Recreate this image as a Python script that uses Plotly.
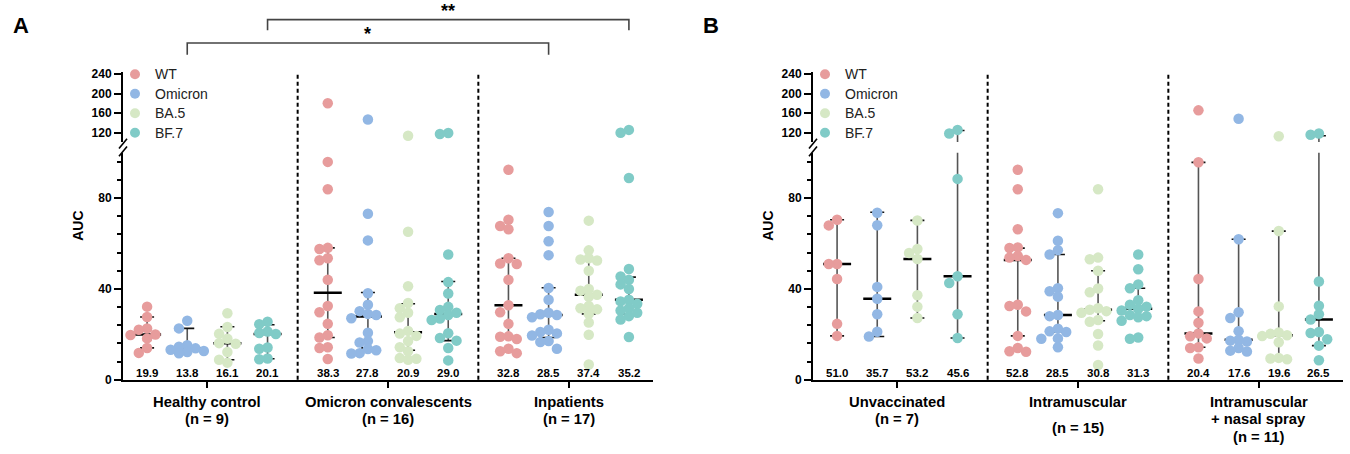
import numpy as np
import plotly.graph_objects as go

W, H = 1350, 454

series_names = ["WT", "Omicron", "BA.5", "BF.7"]
series_colors = ["#E79C9C", "#92B7E4", "#D6E8C5", "#80CBC7"]

labels_a = [["Healthy control", "(n = 9)"], ["Omicron convalescents", "(n = 16)"], ["Inpatients", "(n = 17)"]]
labels_b = [["Unvaccinated", "(n = 7)"], ["Intramuscular", "", "(n = 15)"], ["Intramuscular", "+ nasal spray", "(n = 11)"]]

# ---------------- Panel A data ----------------
hc_wt = [32.2, 27.6, 22.6, 22.0, 19.9, 19.7, 18.2, 14.0, 11.8]
hc_omi = [26.0, 22.6, 15.2, 14.5, 13.8, 13.2, 12.6, 12.2, 11.6]
hc_ba5 = [29.3, 23.2, 20.2, 18.0, 16.1, 15.8, 12.2, 8.8, 7.5]
hc_bf7 = [25.5, 24.4, 21.2, 20.6, 20.1, 14.2, 13.6, 9.3, 9.0]
med_hc = [19.9, 13.8, 16.1, 20.1]
q1_hc = [14.0, 12.9, 8.8, 9.2]
q3_hc = [27.6, 22.6, 23.3, 24.2]

oc_wt = [180.7, 96.0, 83.9, 58.1, 57.6, 53.5, 52.6, 44.0, 32.5, 29.7, 24.6, 19.6, 18.6, 14.3, 14.0, 9.1]
oc_omi = [147.3, 73.1, 61.4, 38.1, 33.0, 30.2, 29.0, 28.5, 27.1, 20.7, 17.0, 16.4, 13.5, 13.0, 11.7, 11.5]
oc_ba5 = [114.0, 65.2, 41.2, 33.8, 31.5, 29.5, 27.5, 21.5, 20.3, 19.3, 17.0, 14.3, 12.5, 9.5, 9.2, 8.8]
oc_bf7 = [119.5, 117.5, 55.2, 43.0, 38.0, 32.1, 30.7, 29.5, 28.5, 27.0, 26.3, 20.5, 18.4, 17.2, 14.0, 8.5]
med_oc = [38.3, 27.8, 20.9, 29.0]
q1_oc = [18.6, 14.0, 13.0, 17.2]
q3_oc = [58.1, 38.4, 33.5, 43.3]

ip_wt = [92.5, 70.5, 67.7, 66.3, 53.5, 51.2, 51.0, 44.0, 32.8, 29.7, 24.6, 19.1, 18.9, 17.9, 13.6, 12.5, 11.7]
ip_omi = [73.9, 67.7, 61.0, 54.9, 40.4, 35.2, 29.5, 28.8, 28.5, 27.5, 22.0, 21.0, 20.4, 19.5, 17.0, 16.6, 13.6]
ip_ba5 = [70.1, 57.0, 53.5, 53.0, 52.5, 48.0, 40.0, 39.2, 37.4, 36.5, 32.5, 31.5, 31.0, 29.0, 25.2, 19.8, 6.7]
ip_bf7 = [126.0, 120.0, 88.9, 48.8, 45.5, 44.0, 42.0, 40.0, 35.2, 34.5, 33.5, 31.5, 30.5, 29.5, 28.0, 26.5, 18.8]
med_ip = [32.8, 28.5, 37.4, 35.2]
q1_ip = [18.5, 18.6, 29.0, 28.9]
q3_ip = [53.5, 40.5, 53.0, 45.2]

# ---------------- Panel B data ----------------
uv_wt = [70.5, 68.0, 51.0, 51.0, 44.4, 24.6, 19.3]
uv_omi = [73.6, 68.1, 40.9, 35.7, 28.8, 21.1, 19.0]
uv_ba5 = [70.2, 57.6, 55.8, 53.2, 37.2, 32.2, 27.2]
uv_bf7 = [126.0, 118.7, 88.5, 45.6, 42.6, 28.8, 18.4]
med_uv = [51.0, 35.7, 53.2, 45.6]
q1_uv = [19.3, 19.0, 27.2, 18.4]
q3_uv = [70.5, 73.8, 70.2, 124.7]

im_wt = [92.5, 83.9, 66.3, 58.3, 58.0, 54.5, 53.8, 52.8, 33.0, 32.5, 30.1, 19.3, 14.0, 12.5, 12.3]
im_omi = [73.4, 61.2, 57.1, 55.2, 40.3, 39.0, 36.6, 28.5, 28.0, 22.5, 21.3, 21.0, 18.2, 18.0, 14.3]
im_ba5 = [83.9, 53.8, 53.1, 48.0, 40.2, 38.5, 31.5, 30.8, 30.2, 29.5, 26.3, 25.5, 20.1, 15.1, 6.5]
im_bf7 = [55.2, 48.7, 42.0, 40.3, 35.0, 33.0, 32.2, 31.3, 30.5, 28.5, 28.0, 27.5, 26.0, 18.6, 18.0]
med_im = [52.8, 28.5, 30.8, 31.3]
q1_im = [19.3, 21.0, 26.0, 27.9]
q3_im = [58.0, 55.2, 48.0, 40.3]

ns_wt = [166.0, 95.8, 44.4, 30.1, 25.1, 20.4, 19.1, 18.2, 14.3, 14.0, 9.3]
ns_omi = [148.7, 61.9, 29.7, 27.2, 21.4, 17.6, 17.2, 16.8, 14.0, 12.8, 12.4]
ns_ba5 = [113.0, 65.5, 32.3, 20.8, 20.2, 19.6, 19.2, 16.5, 9.6, 9.3, 9.0]
ns_bf7 = [118.7, 116.0, 43.3, 32.6, 28.8, 26.5, 21.0, 20.6, 17.8, 15.0, 8.6]
med_ns = [20.4, 17.6, 19.6, 26.5]
q1_ns = [14.3, 13.0, 9.3, 15.0]
q3_ns = [95.8, 61.9, 65.5, 114.0]

lower_ticks = [0, 40, 80]
upper_ticks = [120, 160, 200, 240]

# ---------------- geometry ----------------
Y0 = 385.0          # pixel row of value 0
LOW_MAX = 100.0
UP_MIN, UP_MAX = 101.0, 245.0
LOW_PPU = 2.325     # px per unit (lower segment)
UP_PPU = 0.5        # px per unit (upper segment)
Y120 = 132.0        # pixel row of value 120

low_top_px = Y0 - LOW_MAX * LOW_PPU
up_bot_px = Y120 + (120 - UP_MIN) * UP_PPU
up_top_px = Y120 - (UP_MAX - 120) * UP_PPU

XR = [-2.1, 11.1]
AXW = 530.0
PPX = AXW / (XR[1] - XR[0])
GSTEP = 4.5

LINE_Y = [408.0, 425.5, 444.0]   # pixel rows of group-label lines
GAP_LINE_Y = 435.0               # row of a label's last line when a blank line precedes it


def py(p):
    return (H - p) / H


def px(p):
    return p / W


def hpx(v):
    if v <= LOW_MAX:
        return v * LOW_PPU
    return (Y0 - Y120) + (v - 120) * UP_PPU


def swarm(vals, step_px=8.3, dmin=8.0):
    vals = np.asarray(vals, float)
    order = np.argsort(-vals)
    placed = []
    offs = np.zeros(len(vals))
    for i in order:
        hy = hpx(vals[i])
        chosen, best, chosen_fb = None, -1.0, 0.0
        for k in [0, -1, 1, -2, 2]:
            ox = k * step_px
            dists = [np.hypot(ox - a, hy - b) for a, b in placed]
            mdist = min(dists) if dists else 1e9
            if mdist >= dmin:
                chosen = ox
                break
            if mdist > best:
                best, chosen_fb = mdist, ox
        if chosen is None:
            chosen = chosen_fb
        placed.append((chosen, hy))
        offs[i] = chosen / PPX
    return offs


panels = [
    dict(name="A", left=123.0, xa="x", yl="y", yu="y2",
         groups=[[hc_wt, hc_omi, hc_ba5, hc_bf7], [oc_wt, oc_omi, oc_ba5, oc_bf7], [ip_wt, ip_omi, ip_ba5, ip_bf7]],
         meds=[med_hc, med_oc, med_ip], q1s=[q1_hc, q1_oc, q1_ip], q3s=[q3_hc, q3_oc, q3_ip], labels=labels_a),
    dict(name="B", left=813.0, xa="x2", yl="y3", yu="y4",
         groups=[[uv_wt, uv_omi, uv_ba5, uv_bf7], [im_wt, im_omi, im_ba5, im_bf7], [ns_wt, ns_omi, ns_ba5, ns_bf7]],
         meds=[med_uv, med_im, med_ns], q1s=[q1_uv, q1_im, q1_ns], q3s=[q3_uv, q3_im, q3_ns], labels=labels_b),
]

fig = go.Figure()
annotations = []
shapes = []

MED_HALF = 14 / PPX
CAP_HALF = 7 / PPX
FONT = "Liberation Sans, Arial"

for P in panels:
    xa, yl, yu = P["xa"], P["yl"], P["yu"]
    wl = dict(x=[], y=[])
    wu = dict(x=[], y=[])
    cl = dict(x=[], y=[])
    cu = dict(x=[], y=[])
    md = dict(x=[], y=[])
    for g in range(3):
        for s in range(4):
            xc = g * GSTEP + (s - 1.5)
            q1 = P["q1s"][g][s]
            q3 = P["q3s"][g][s]
            m = P["meds"][g][s]
            wl["x"] += [xc, xc, None]
            wl["y"] += [q1, min(q3, LOW_MAX + 2), None]
            if q3 > UP_MIN:
                wu["x"] += [xc, xc, None]
                wu["y"] += [UP_MIN - 2, q3, None]
                cu["x"] += [xc - CAP_HALF, xc + CAP_HALF, None]
                cu["y"] += [q3, q3, None]
            else:
                cl["x"] += [xc - CAP_HALF, xc + CAP_HALF, None]
                cl["y"] += [q3, q3, None]
            cl["x"] += [xc - CAP_HALF, xc + CAP_HALF, None]
            cl["y"] += [q1, q1, None]
            md["x"] += [xc - MED_HALF, xc + MED_HALF, None]
            md["y"] += [m, m, None]
            annotations.append(dict(x=xc, y=0, xref=xa, yref=yl, text=f"{m:.1f}", showarrow=False,
                                    yanchor="middle", yshift=7,
                                    font=dict(family=FONT, size=11.5, color="black", weight="bold")))
        # group labels (one annotation per line)
        lines = P["labels"][g]
        for li, txt in enumerate(lines):
            if not txt:
                continue
            yrow = LINE_Y[li]
            if li == 2 and not lines[1]:
                yrow = GAP_LINE_Y
            annotations.append(dict(x=g * GSTEP, y=py(yrow), xref=xa, yref="paper", text=txt,
                                    showarrow=False, xanchor="center", yanchor="middle",
                                    font=dict(family=FONT, size=14.8, color="black", weight="bold")))
    fig.add_trace(go.Scatter(x=wl["x"], y=wl["y"], mode="lines", xaxis=xa, yaxis=yl,
                             line=dict(color="#555555", width=1.6), showlegend=False, hoverinfo="skip"))
    fig.add_trace(go.Scatter(x=wu["x"], y=wu["y"], mode="lines", xaxis=xa, yaxis=yu,
                             line=dict(color="#555555", width=1.6), showlegend=False, hoverinfo="skip"))
    fig.add_trace(go.Scatter(x=cl["x"], y=cl["y"], mode="lines", xaxis=xa, yaxis=yl,
                             line=dict(color="#111111", width=1.6), showlegend=False, hoverinfo="skip"))
    fig.add_trace(go.Scatter(x=cu["x"], y=cu["y"], mode="lines", xaxis=xa, yaxis=yu,
                             line=dict(color="#111111", width=1.6), showlegend=False, hoverinfo="skip"))
    fig.add_trace(go.Scatter(x=md["x"], y=md["y"], mode="lines", xaxis=xa, yaxis=yl,
                             line=dict(color="#000000", width=2.5), showlegend=False, hoverinfo="skip"))
    # dots
    for s in range(4):
        lx, ly, ux, uy = [], [], [], []
        for g in range(3):
            vals = P["groups"][g][s]
            xc = g * GSTEP + (s - 1.5)
            offs = swarm(vals)
            for v, o in zip(vals, offs):
                if v <= LOW_MAX:
                    lx.append(xc + o); ly.append(v)
                else:
                    ux.append(xc + o); uy.append(v)
        mk = dict(size=10.5, color=series_colors[s], line=dict(width=0))
        fig.add_trace(go.Scatter(x=lx, y=ly, mode="markers", xaxis=xa, yaxis=yl, marker=mk,
                                 name=series_names[s], showlegend=False))
        fig.add_trace(go.Scatter(x=ux, y=uy, mode="markers", xaxis=xa, yaxis=yu, marker=mk,
                                 name=series_names[s], showlegend=False))

    left = P["left"]
    # legend
    for s in range(4):
        yrow = Y120 - (upper_ticks[::-1][s] - 120) * UP_PPU
        shapes.append(dict(type="circle", xref="paper", yref="paper", xsizemode="pixel", ysizemode="pixel",
                           xanchor=px(left + 12), yanchor=py(yrow), x0=-5, x1=5, y0=-5, y1=5,
                           fillcolor=series_colors[s], line=dict(width=0)))
        annotations.append(dict(x=px(left + 30), y=py(yrow), xref="paper", yref="paper", text=series_names[s],
                                showarrow=False, xanchor="left", yanchor="middle",
                                font=dict(family=FONT, size=14, color="#222222")))
    # AUC title
    annotations.append(dict(x=px(left - 45), y=py((Y0 + up_top_px) / 2), xref="paper", yref="paper", text="AUC",
                            textangle=-90, showarrow=False, xanchor="center", yanchor="middle",
                            font=dict(family=FONT, size=14, color="black", weight="bold")))
    # panel letter
    annotations.append(dict(x=px(left - 102), y=py(22), xref="paper", yref="paper", text=P["name"],
                            showarrow=False, xanchor="center", yanchor="middle",
                            font=dict(family=FONT, size=22, color="black", weight="bold")))
    # axis break marks
    for yc in (up_bot_px + 1.5, low_top_px - 1.5):
        shapes.append(dict(type="line", xref="paper", yref="paper",
                           x0=px(left - 4), y0=py(yc + 5), x1=px(left + 4), y1=py(yc - 5),
                           line=dict(color="black", width=1.6)))
    # dashed separators
    for xs in (GSTEP / 2, GSTEP * 1.5):
        shapes.append(dict(type="line", xref=xa, yref="paper", x0=xs, x1=xs, y0=py(Y0), y1=py(72),
                           line=dict(color="black", width=2, dash="4px,3px")))


def col(g, s):
    return g * GSTEP + (s - 1.5)


# significance brackets (panel A)
brackets = [((0, 1), (2, 1), 40, 52, "*"), ((0, 3), (2, 3), 16, 27, "**")]
for (g0, s0), (g1, s1), ytop, ybot, txt in brackets:
    xA, xB = col(g0, s0), col(g1, s1)
    shapes.append(dict(type="path", xref="x", yref="paper",
                       path=f"M {xA},{py(ybot)} L {xA},{py(ytop)} L {xB},{py(ytop)} L {xB},{py(ybot)}",
                       line=dict(color="#444444", width=1.6)))
    annotations.append(dict(x=(xA + xB) / 2, y=py(ytop), xref="x", yref="paper", text=txt, showarrow=False,
                            xanchor="center", yanchor="bottom", yshift=-3,
                            font=dict(family=FONT, size=18, color="black", weight="bold")))

tickfont = dict(family=FONT, size=12, color="black", weight="bold")

low_dom = [py(Y0), py(low_top_px)]
up_dom = [py(up_bot_px), py(up_top_px)]


def xaxis_cfg(P, anchor):
    return dict(domain=[px(P["left"]), px(P["left"] + AXW)], range=XR, anchor=anchor,
                showline=True, linecolor="black", linewidth=2, showgrid=False, zeroline=False,
                tickvals=[0, GSTEP, 2 * GSTEP], ticktext=["", "", ""], ticks="outside", ticklen=6,
                tickwidth=2, tickcolor="black", fixedrange=True)


def ylow_cfg(anchor):
    return dict(domain=low_dom, range=[0, LOW_MAX], anchor=anchor, showline=True, linecolor="black",
                linewidth=2, showgrid=False, zeroline=False, tickvals=lower_ticks, ticks="outside",
                ticklen=7, tickwidth=2, tickcolor="black", tickfont=tickfont, fixedrange=True,
                minor=dict(tick0=0, dtick=8, ticks="outside", ticklen=4, tickwidth=1.5, tickcolor="black",
                           showgrid=False))


def yup_cfg(anchor):
    return dict(domain=up_dom, range=[UP_MIN, UP_MAX], anchor=anchor, showline=True, linecolor="black",
                linewidth=2, showgrid=False, zeroline=False, tickvals=upper_ticks, ticks="outside",
                ticklen=7, tickwidth=2, tickcolor="black", tickfont=tickfont, fixedrange=True)


fig.update_layout(
    width=W, height=H, autosize=False,
    margin=dict(l=0, r=0, t=0, b=0),
    paper_bgcolor="white", plot_bgcolor="white",
    showlegend=False,
    xaxis=xaxis_cfg(panels[0], "y"),
    yaxis=ylow_cfg("x"),
    yaxis2=yup_cfg("x"),
    xaxis2=xaxis_cfg(panels[1], "y3"),
    yaxis3=ylow_cfg("x2"),
    yaxis4=yup_cfg("x2"),
    annotations=annotations,
    shapes=shapes,
    font=dict(family=FONT, color="black"),
)

fig.write_html("out.html", config={"displayModeBar": False},
               post_script="document.body.style.margin='0px';document.body.style.overflow='hidden';")
